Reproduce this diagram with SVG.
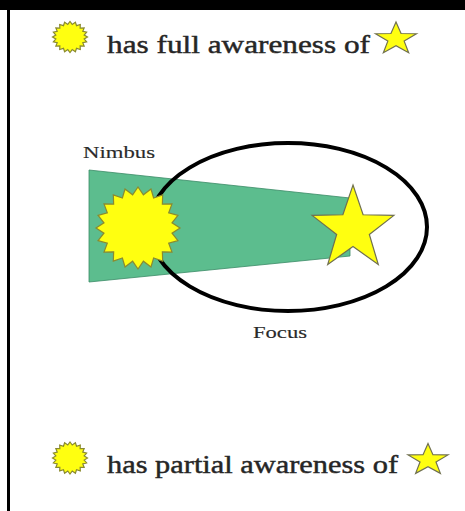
<svg xmlns="http://www.w3.org/2000/svg" xmlns:xlink="http://www.w3.org/1999/xlink" width="465" height="511" viewBox="0 0 465 511">
<style>
.lbl{font-family:"Liberation Serif","Times New Roman",serif;fill:#262626;stroke:#262626;stroke-width:0.45;}
.sm{font-family:"Liberation Serif","Times New Roman",serif;fill:#2a2a2a;stroke:#2a2a2a;stroke-width:0.15;}
.sun{fill:#ffff10;stroke:#8a8a30;stroke-width:1.2;}
.star{fill:#ffff10;stroke:#707050;stroke-width:1.2;}
</style>
<defs>
<polygon id="sunShape" vector-effect="non-scaling-stroke" points="100,0 81.0,12.8 95.1,30.9 73.1,37.2 80.9,58.8 58.0,58.0 58.8,80.9 37.2,73.1 30.9,95.1 12.8,81.0 0,100 -12.8,81.0 -30.9,95.1 -37.2,73.1 -58.8,80.9 -58.0,58.0 -80.9,58.8 -73.1,37.2 -95.1,30.9 -81.0,12.8 -100,0 -81.0,-12.8 -95.1,-30.9 -73.1,-37.2 -80.9,-58.8 -58.0,-58.0 -58.8,-80.9 -37.2,-73.1 -30.9,-95.1 -12.8,-81.0 0,-100 12.8,-81.0 30.9,-95.1 37.2,-73.1 58.8,-80.9 58.0,-58.0 80.9,-58.8 73.1,-37.2 95.1,-30.9 81.0,-12.8"/>
<polygon id="starShape" vector-effect="non-scaling-stroke" points="0,-100 23.5,-32.4 95.1,-30.9 38.0,12.4 58.8,80.9 0,40 -58.8,80.9 -38.0,12.4 -95.1,-30.9 -23.5,-32.4"/>
</defs>
<rect width="465" height="511" fill="#ffffff"/>
<g id="frame">
<rect x="0" y="0" width="465" height="10" fill="#000"/>
<rect x="7" y="0" width="3" height="511" fill="#000"/>
</g>
<g id="legend-full">
<use xlink:href="#sunShape" class="sun" transform="translate(70,37) scale(0.175,0.155)"/>
<text class="lbl" x="107" y="53" font-size="26" textLength="263" lengthAdjust="spacingAndGlyphs">has full awareness of</text>
<use xlink:href="#starShape" class="star" transform="translate(396,39) scale(0.215,0.17)"/>
</g>
<g id="nimbus">
<polygon points="89,170 350,198 350,256 89,282" fill="#5cbd8e" stroke="#3a8a66" stroke-width="0.8"/>
<text class="sm" x="83" y="158" font-size="17" textLength="72" lengthAdjust="spacingAndGlyphs">Nimbus</text>
</g>
<g id="focus">
<ellipse cx="288" cy="227" rx="139" ry="84" fill="none" stroke="#000" stroke-width="4"/>
<text class="sm" x="253" y="338" font-size="16" textLength="54" lengthAdjust="spacingAndGlyphs">Focus</text>
</g>
<g id="sun">
<use xlink:href="#sunShape" class="sun" transform="translate(138,228) scale(0.42,0.41)"/>
</g>
<g id="star">
<use xlink:href="#starShape" class="star" transform="translate(353,229) scale(0.43,0.44)"/>
</g>
<g id="legend-partial">
<use xlink:href="#sunShape" class="sun" transform="translate(70,458) scale(0.175,0.16)"/>
<text class="lbl" x="107" y="473" font-size="26" textLength="291" lengthAdjust="spacingAndGlyphs">has partial awareness of</text>
<use xlink:href="#starShape" class="star" transform="translate(428,460) scale(0.21,0.165)"/>
</g>
<g id="connectors"/>
</svg>
